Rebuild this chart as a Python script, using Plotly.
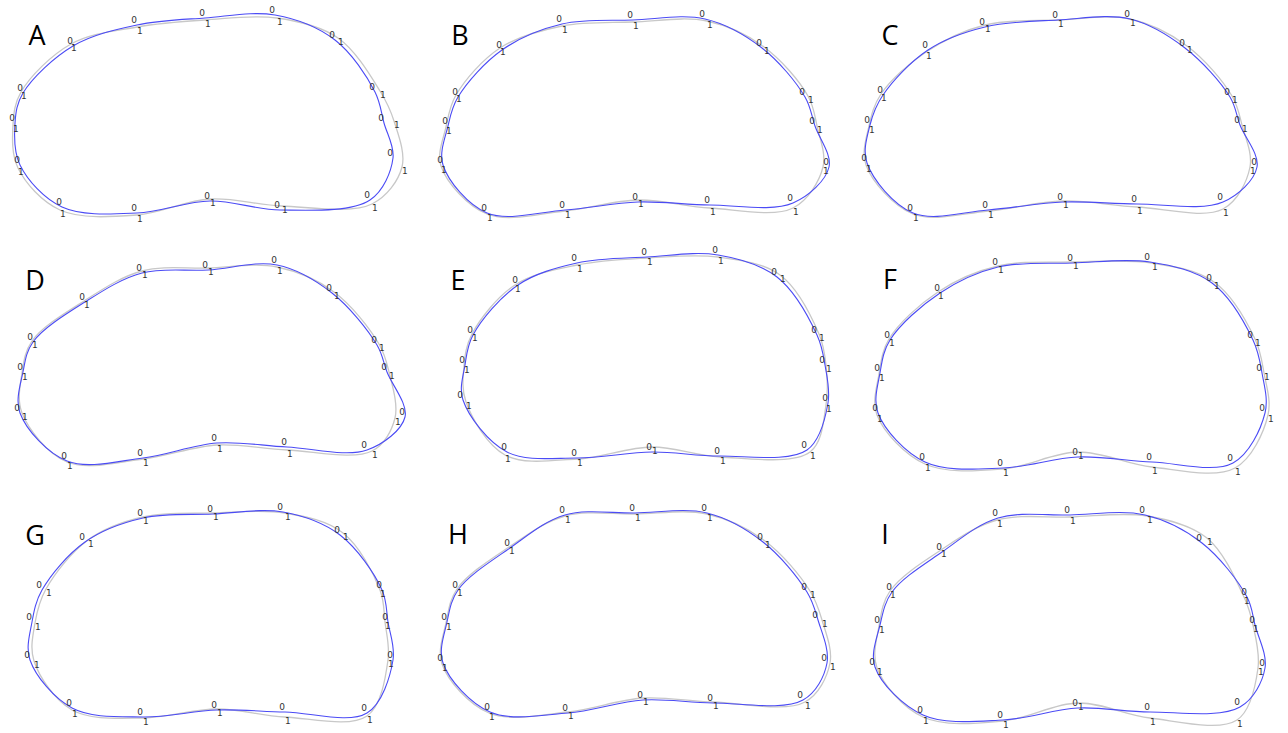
import plotly.graph_objects as go

# Landmark outlines for the nine specimens (page pixel coordinates).
# Each panel: blue = fitted outline, gray = reference outline, 16 landmarks clockwise from left.
a_blue_x = [15, 23, 73, 137, 205, 275, 335, 375, 384, 393, 370, 280, 210, 137, 62, 20]
a_blue_y = [123, 93, 46, 25, 18, 15, 40, 92, 123, 158, 200, 210, 201, 213, 207, 165]
a_gray_x = [13, 21, 71, 137, 205, 277, 338, 380, 394, 402, 372, 282, 210, 137, 60, 18]
a_gray_y = [125, 92, 44, 27, 20, 18, 38, 91, 121, 167, 204, 206, 199, 215, 210, 168]

b_blue_x = [448, 458, 502, 562, 633, 705, 762, 805, 815, 829, 793, 710, 638, 565, 487, 443]
b_blue_y = [126, 97, 50, 24, 20, 19, 48, 97, 126, 167, 203, 205, 202, 210, 213, 165]
b_gray_x = [446, 456, 500, 562, 633, 707, 764, 808, 817, 823, 793, 710, 638, 565, 487, 441]
b_gray_y = [127, 95, 48, 26, 22, 21, 47, 96, 126, 167, 208, 208, 200, 211, 214, 166]

c_blue_x = [870, 883, 928, 985, 1058, 1130, 1185, 1230, 1240, 1257, 1223, 1137, 1063, 988, 913, 867]
c_blue_y = [125, 95, 50, 27, 20, 19, 48, 97, 125, 167, 202, 204, 202, 210, 213, 163]
c_gray_x = [869, 881, 926, 985, 1058, 1130, 1187, 1232, 1242, 1250, 1223, 1137, 1063, 988, 913, 866]
c_gray_y = [126, 94, 52, 25, 20, 19, 46, 96, 125, 167, 209, 207, 201, 211, 214, 165]

d_blue_x = [23, 33, 85, 142, 208, 277, 332, 377, 387, 405, 367, 287, 217, 143, 67, 20]
d_blue_y = [372, 342, 302, 273, 270, 265, 293, 345, 372, 417, 450, 447, 443, 458, 461, 413]
d_gray_x = [22, 32, 84, 142, 208, 277, 334, 379, 389, 395, 372, 287, 217, 143, 67, 22]
d_gray_y = [373, 341, 301, 271, 268, 267, 292, 344, 372, 418, 451, 450, 445, 459, 462, 413]

e_blue_x = [465, 473, 518, 577, 647, 718, 777, 817, 825, 828, 807, 720, 652, 577, 507, 463]
e_blue_y = [365, 335, 285, 263, 257, 255, 277, 335, 365, 403, 450, 456, 452, 458, 452, 400]
e_gray_x = [464, 472, 515, 577, 647, 718, 780, 819, 826, 826, 810, 720, 652, 577, 505, 466]
e_gray_y = [366, 334, 285, 265, 258, 257, 275, 334, 365, 405, 452, 457, 447, 459, 455, 402]

f_blue_x = [880, 890, 940, 998, 1073, 1150, 1212, 1253, 1262, 1265, 1233, 1152, 1078, 1003, 925, 878]
f_blue_y = [373, 340, 293, 267, 263, 262, 283, 340, 373, 413, 463, 462, 457, 468, 462, 413]
f_gray_x = [879, 889, 938, 998, 1073, 1152, 1214, 1255, 1264, 1268, 1235, 1152, 1078, 1003, 925, 877]
f_gray_y = [374, 339, 292, 266, 262, 263, 282, 339, 373, 415, 468, 467, 452, 469, 464, 415]

g_blue_x = [32, 42, 85, 143, 213, 283, 340, 382, 388, 393, 367, 285, 217, 143, 72, 30]
g_blue_y = [622, 590, 542, 518, 514, 512, 535, 590, 622, 660, 713, 712, 710, 717, 708, 660]
g_gray_x = [35, 46, 88, 143, 213, 285, 343, 380, 385, 388, 367, 285, 217, 143, 72, 34]
g_gray_y = [623, 589, 540, 517, 513, 513, 533, 590, 622, 660, 716, 717, 709, 718, 710, 661]

h_blue_x = [447, 458, 510, 565, 635, 707, 763, 807, 818, 827, 803, 713, 643, 568, 490, 443]
h_blue_y = [622, 590, 548, 515, 513, 513, 542, 592, 620, 663, 700, 703, 700, 713, 712, 663]
h_gray_x = [446, 457, 509, 565, 635, 707, 765, 810, 822, 830, 805, 713, 643, 568, 489, 442]
h_gray_y = [623, 589, 547, 516, 514, 514, 541, 591, 620, 663, 702, 702, 698, 712, 713, 664]

i_blue_x = [880, 892, 942, 998, 1070, 1145, 1202, 1247, 1255, 1265, 1240, 1150, 1078, 1003, 923, 875]
i_blue_y = [625, 592, 552, 518, 515, 515, 543, 597, 625, 668, 707, 712, 708, 720, 715, 667]
i_gray_x = [879, 890, 941, 997, 1070, 1147, 1207, 1244, 1253, 1258, 1237, 1150, 1078, 1003, 923, 877]
i_gray_y = [626, 591, 550, 520, 517, 516, 538, 597, 625, 668, 720, 718, 703, 721, 717, 668]

panel_names = ["A", "B", "C", "D", "E", "F", "G", "H", "I"]
panel_label_x = [37, 460, 890, 35, 458, 890, 35, 458, 885]
panel_label_y = [38, 38, 38, 283, 283, 282, 538, 537, 537]

panels = [
    (a_blue_x, a_blue_y, a_gray_x, a_gray_y),
    (b_blue_x, b_blue_y, b_gray_x, b_gray_y),
    (c_blue_x, c_blue_y, c_gray_x, c_gray_y),
    (d_blue_x, d_blue_y, d_gray_x, d_gray_y),
    (e_blue_x, e_blue_y, e_gray_x, e_gray_y),
    (f_blue_x, f_blue_y, f_gray_x, f_gray_y),
    (g_blue_x, g_blue_y, g_gray_x, g_gray_y),
    (h_blue_x, h_blue_y, h_gray_x, h_gray_y),
    (i_blue_x, i_blue_y, i_gray_x, i_gray_y),
]


def closed(v):
    # repeating the first vertex makes plotly draw a smooth closed spline
    return list(v) + [v[0]]


fig = go.Figure()
for bx, by, gx, gy in panels:
    fig.add_trace(go.Scatter(
        x=closed(gx), y=closed(gy), mode="lines",
        line=dict(color="rgb(200,200,200)", width=1.3, shape="spline", smoothing=1.0),
        hoverinfo="skip", showlegend=False))
    fig.add_trace(go.Scatter(
        x=closed(bx), y=closed(by), mode="lines",
        line=dict(color="rgb(75,75,245)", width=1.1, shape="spline", smoothing=1.0),
        hoverinfo="skip", showlegend=False))
    # landmark indices: "0" on the fitted outline, "1" on the reference outline
    fig.add_trace(go.Scatter(
        x=bx, y=by, mode="text", text=["0"] * len(bx),
        textposition="top left",
        textfont=dict(family="DejaVu Sans", size=9, color="#333333"),
        hoverinfo="skip", showlegend=False))
    fig.add_trace(go.Scatter(
        x=gx, y=gy, mode="text", text=["1"] * len(gx),
        textposition="bottom right",
        textfont=dict(family="DejaVu Sans", size=9, color="#333333"),
        hoverinfo="skip", showlegend=False))

fig.add_trace(go.Scatter(
    x=panel_label_x, y=panel_label_y, mode="text", text=panel_names,
    textposition="middle center",
    textfont=dict(family="Open Sans", size=27, color="black"),
    hoverinfo="skip", showlegend=False))

fig.update_layout(
    width=1288, height=733,
    margin=dict(l=0, r=0, t=0, b=0),
    paper_bgcolor="white", plot_bgcolor="white",
    xaxis=dict(range=[0, 1288], visible=False, fixedrange=True),
    yaxis=dict(range=[733, 0], visible=False, fixedrange=True),
)

fig.write_html("out.html")
